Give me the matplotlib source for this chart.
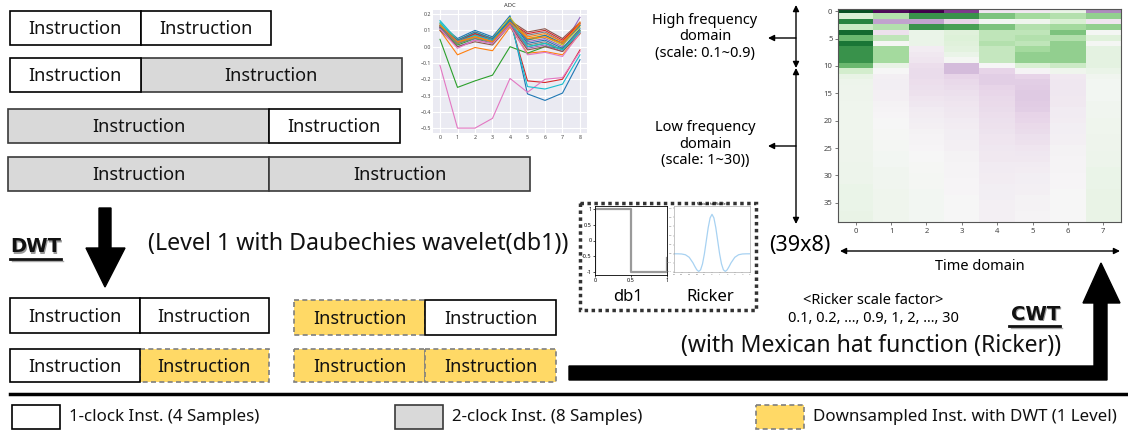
import matplotlib
matplotlib.use("Agg")
import matplotlib.pyplot as plt
from matplotlib.patches import Rectangle, Polygon
import numpy as np

W, H = 1128, 434

# ---------------- data ----------------
# instruction rows before DWT (clock counts per instruction)
top_rows = [[1, 1], [1, 2], [2, 1], [2, 2]]
# instruction rows after DWT ('w' = 1-clock, 'd' = downsampled)
dwt_left_rows = [["w", "w"], ["w", "d"]]
dwt_right_rows = [["d", "w"], ["d", "d"]]
box_label = "Instruction"

# ADC sample traces (x = 0..8)
adc_x = [0, 1, 2, 3, 4, 5, 6, 7, 8]
adc_lines = [
    [0.14, 0.05, 0.10, 0.06, 0.19, -0.29, -0.33, -0.285, -0.08],
    [0.10, -0.05, -0.005, -0.025, 0.12, -0.04, -0.03, -0.05, 0.08],
    [0.045, -0.25, -0.21, -0.175, 0.0, -0.04, 0.0, -0.01, 0.09],
    [0.12, 0.02, 0.06, 0.03, 0.16, -0.21, -0.22, -0.20, -0.02],
    [0.13, 0.03, 0.07, 0.04, 0.17, 0.03, 0.05, 0.0, 0.18],
    [0.13, 0.04, 0.08, 0.05, 0.16, 0.09, 0.11, 0.05, 0.15],
    [-0.115, -0.50, -0.50, -0.44, -0.195, -0.28, -0.20, -0.19, -0.03],
    [0.12, 0.03, 0.07, 0.04, 0.15, 0.07, 0.09, 0.03, 0.14],
    [0.13, 0.02, 0.06, 0.03, 0.16, 0.05, 0.07, 0.02, 0.13],
    [0.16, 0.04, 0.08, 0.05, 0.17, -0.245, -0.26, -0.23, -0.05],
    [0.13, 0.03, 0.08, 0.04, 0.17, 0.02, 0.04, -0.01, 0.11],
    [0.12, 0.02, 0.07, 0.03, 0.16, 0.06, 0.08, 0.03, 0.15],
    [0.11, 0.01, 0.05, 0.02, 0.14, 0.0, 0.02, -0.02, 0.10],
    [0.12, 0.03, 0.08, 0.04, 0.15, 0.08, 0.10, 0.04, 0.14],
    [0.11, 0.0, 0.04, 0.02, 0.14, -0.01, 0.01, -0.03, 0.09],
    [0.10, 0.0, 0.03, 0.01, 0.13, -0.02, 0.0, -0.03, 0.08],
    [0.11, -0.01, 0.04, 0.02, 0.13, -0.05, -0.035, -0.06, 0.085],
    [0.12, 0.02, 0.05, 0.03, 0.15, 0.01, 0.03, -0.02, 0.10],
    [0.14, 0.04, 0.09, 0.05, 0.18, 0.04, 0.06, 0.01, 0.12],
    [0.15, 0.03, 0.07, 0.04, 0.16, 0.0, 0.02, -0.02, 0.09],
    [0.12, 0.04, 0.09, 0.05, 0.16, 0.04, 0.07, 0.02, 0.13],
    [0.13, 0.03, 0.06, 0.03, 0.15, 0.05, 0.06, 0.02, 0.14],
]

# db1 (Haar) wavelet function
db1_x = [0.0, 0.0, 0.5, 0.5, 1.0, 1.0]
db1_y = [-1.0, 1.0, 1.0, -1.0, -1.0, -0.55]

# Mexican hat (Ricker) wavelet samples
ricker_t = [-5, -4.5, -4, -3.5, -3, -2.5, -2.25, -2, -1.75, -1.5, -1.25, -1, -0.75,
            -0.5, -0.25, 0, 0.25, 0.5, 0.75, 1, 1.25, 1.5, 1.75, 2, 2.25, 2.5, 3,
            3.5, 4, 4.5, 5]
ricker_v = [0.0, -0.0005, -0.004, -0.021, -0.077, -0.200, -0.280, -0.352, -0.387,
            -0.352, -0.223, 0.0, 0.286, 0.574, 0.788, 0.867, 0.788, 0.574, 0.286,
            0.0, -0.223, -0.352, -0.387, -0.352, -0.280, -0.200, -0.077, -0.021,
            -0.004, -0.0005, 0.0]

# CWT coefficients (39 scales x 8 time steps), one list per time step
cwt_t0 = [0.95, 0.2, 0.75, 0.25, 0.85, 0.55, 0.8, 0.7, 0.7, 0.7, 0.55, 0.22, 0.1, 0.07,
          0.06, 0.06, 0.06, 0.05, 0.05, 0.05, 0.05, 0.05, 0.05, 0.05, 0.06, 0.06, 0.06,
          0.06, 0.07, 0.07, 0.07, 0.07, 0.08, 0.08, 0.08, 0.08, 0.08, 0.09, 0.09]
cwt_t1 = [-0.95, 0.35, -0.4, 0.35, -0.12, 0.3, 0.02, 0.4, 0.4, 0.4, 0.1, 0.0, -0.04,
          -0.05, -0.05, -0.04, -0.04, -0.03, -0.02, -0.01, 0.0, 0.0, 0.01, 0.01, 0.02,
          0.02, 0.03, 0.03, 0.03, 0.04, 0.04, 0.04, 0.04, 0.05, 0.05, 0.05, 0.05, 0.05,
          0.05]
cwt_t2 = [-1.0, 0.7, -0.4, 0.7, 0.08, 0.08, 0.08, -0.06, -0.08, -0.1, -0.14, -0.15,
          -0.15, -0.14, -0.13, -0.12, -0.1, -0.09, -0.07, -0.06, -0.05, -0.04, -0.03,
          -0.02, -0.02, -0.01, 0.0, 0.0, 0.01, 0.01, 0.02, 0.02, 0.02, 0.03, 0.03, 0.03,
          0.03, 0.03, 0.03]
cwt_t3 = [-0.75, 0.7, -0.2, 0.65, 0.15, 0.17, 0.15, 0.13, 0.08, 0.02, -0.3, -0.3, -0.2,
          -0.17, -0.15, -0.13, -0.11, -0.1, -0.09, -0.08, -0.07, -0.06, -0.05, -0.05,
          -0.04, -0.04, -0.03, -0.03, -0.02, -0.02, -0.02, -0.01, -0.01, -0.01, 0.0, 0.0,
          0.0, 0.0, 0.0]
cwt_t4 = [-0.1, 0.5, 0.03, 0.5, 0.3, 0.3, 0.35, 0.28, 0.28, 0.28, 0.0, -0.2, -0.22,
          -0.22, -0.2, -0.18, -0.17, -0.16, -0.15, -0.14, -0.13, -0.12, -0.11, -0.1,
          -0.1, -0.09, -0.08, -0.08, -0.07, -0.07, -0.06, -0.06, -0.05, -0.05, -0.05,
          -0.04, -0.04, -0.04, -0.04]
cwt_t5 = [-0.08, 0.4, 0.05, 0.35, 0.3, 0.35, 0.3, 0.4, 0.45, 0.45, 0.2, -0.02, -0.2,
          -0.22, -0.23, -0.24, -0.24, -0.23, -0.22, -0.2, -0.18, -0.16, -0.15, -0.13,
          -0.12, -0.1, -0.09, -0.08, -0.07, -0.06, -0.05, -0.05, -0.04, -0.04, -0.03,
          -0.03, -0.03, -0.02, -0.02]
cwt_t6 = [0.1, 0.35, 0.2, 0.4, 0.5, 0.35, 0.45, 0.45, 0.45, 0.45, 0.25, 0.05, -0.08,
          -0.09, -0.09, -0.09, -0.08, -0.08, -0.07, -0.07, -0.06, -0.05, -0.05, -0.04,
          -0.04, -0.03, -0.03, -0.02, -0.02, -0.02, -0.01, -0.01, -0.01, 0.0, 0.0, 0.0,
          0.0, 0.0, 0.0]
cwt_t7 = [-0.5, 0.45, -0.1, 0.45, 0.02, 0.15, 0.02, 0.12, 0.12, 0.12, 0.12, 0.08, 0.04,
          0.03, 0.03, 0.03, 0.03, 0.04, 0.04, 0.04, 0.05, 0.05, 0.05, 0.06, 0.06, 0.06,
          0.07, 0.07, 0.07, 0.08, 0.08, 0.08, 0.08, 0.09, 0.09, 0.09, 0.09, 0.09, 0.09]
cwt_columns = [cwt_t0, cwt_t1, cwt_t2, cwt_t3, cwt_t4, cwt_t5, cwt_t6, cwt_t7]

legend_labels = ["1-clock Inst. (4 Samples)", "2-clock Inst. (8 Samples)",
                 "Downsampled Inst. with DWT (1 Level)"]

# ---------------- styles ----------------
FONT = ["Noto Sans", "DejaVu Sans"]
BOLD = ["DejaVu Sans"]
GRAY = "#D9D9D9"
YELLOW = "#FFD966"
DASH_EC = "#7F7F7F"
plt.rcParams["font.family"] = FONT

fig = plt.figure(figsize=(W / 100, H / 100), dpi=100)
ax = fig.add_axes([0, 0, 1, 1])
ax.set_xlim(0, W)
ax.set_ylim(H, 0)
ax.axis("off")


def px_axes(x0, y0, x1, y1):
    return fig.add_axes([x0 / W, 1 - y1 / H, (x1 - x0) / W, (y1 - y0) / H])


def box(x, y, w, h, kind, label=box_label, fs=13):
    if kind == "w":
        r = Rectangle((x, y), w, h, fc="white", ec="black", lw=1.2, zorder=3)
    elif kind == "g":
        r = Rectangle((x, y), w, h, fc=GRAY, ec="#3a3a3a", lw=1.2, zorder=2)
    else:
        r = Rectangle((x, y), w, h, fc=YELLOW, ec=DASH_EC, lw=1.2,
                      ls=(0, (3, 2)), zorder=2)
    ax.add_patch(r)
    if label:
        ax.text(x + w / 2, y + h / 2 + 1, label, ha="center", va="center",
                fontsize=fs, color="#111111", zorder=4)


def bold_label(x, y, s, ha):
    ax.text(x + 1.5, y + 1.5, s, fontsize=14, fontweight="bold", ha=ha,
            va="center", color="#9a9a9a", family=BOLD)
    ax.text(x, y, s, fontsize=14, fontweight="bold", ha=ha, va="center",
            color="#111111", family=BOLD)


# ---- top instruction rows ----
unit = 130.5
row_y = [11, 58, 109, 157]
row_x0 = [10, 10, 8, 8]
for r, clocks in enumerate(top_rows):
    x = row_x0[r]
    for c in clocks:
        box(x, row_y[r], unit * c, 34, "w" if c == 1 else "g")
        x += unit * c

# ---- after-DWT rows ----
bw = 129.5
for r, kinds in enumerate(dwt_left_rows):
    y = [298, 349][r]
    x = 10
    for k in kinds:
        box(x, y, bw, [35, 33][r], k)
        x += bw
for r, kinds in enumerate(dwt_right_rows):
    y = [300, 349][r]
    x = 294
    for k in kinds:
        box(x, y, 131, [35, 33][r], k)
        x += 131

# ---- DWT label + arrow ----
bold_label(10, 247, "DWT", "left")
ax.plot([10, 61], [259, 259], color="#111111", lw=2)
ax.plot([11.5, 62.5], [260.5, 260.5], color="#aaaaaa", lw=1, zorder=0)
ax.add_patch(Polygon([(99, 208), (111, 208), (111, 248), (125, 248), (105, 287),
                      (86, 248), (99, 248)], closed=True, fc="black", ec="black"))
ax.text(148, 244, "(Level 1 with Daubechies wavelet(db1))", fontsize=16.7,
        ha="left", va="center", color="#111111")

# ---- CWT label / text ----
bold_label(1060, 314, "CWT", "right")
ax.plot([1009, 1060], [326, 326], color="#111111", lw=2)
ax.plot([1010.5, 1061.5], [327.5, 327.5], color="#aaaaaa", lw=1, zorder=0)
ax.text(873, 300, "<Ricker scale factor>", fontsize=10.5, ha="center", va="center")
ax.text(873, 319, "0.1, 0.2, ..., 0.9, 1, 2, ..., 30", fontsize=10.5,
        ha="center", va="center")
ax.text(1061, 346, "(with Mexican hat function (Ricker))", fontsize=16.6,
        ha="right", va="center", color="#111111")

# big L-shaped arrow
ax.add_patch(Polygon([(569, 366), (1094, 366), (1094, 303), (1083, 303), (1101, 263),
                      (1120, 303), (1107, 303), (1107, 380), (569, 380)],
                     closed=True, fc="black", ec="black"))

# ---- frequency annotations ----
ax.text(705, 37, "High frequency\ndomain\n(scale: 0.1~0.9)", fontsize=10.5,
        ha="center", va="center", linespacing=1.12)
ax.text(705, 144, "Low frequency\ndomain\n(scale: 1~30))", fontsize=10.5,
        ha="center", va="center", linespacing=1.12)
arr = dict(arrowstyle="<|-|>", color="black", lw=1, mutation_scale=9,
           shrinkA=0, shrinkB=0)
ax.annotate("", xy=(796, 5), xytext=(796, 68), arrowprops=arr)
ax.annotate("", xy=(796, 68), xytext=(796, 224), arrowprops=arr)
arr1 = dict(arrowstyle="-|>", color="black", lw=1, mutation_scale=9,
            shrinkA=0, shrinkB=0)
ax.annotate("", xy=(768, 38), xytext=(796, 38), arrowprops=arr1)
ax.annotate("", xy=(768, 146), xytext=(796, 146), arrowprops=arr1)

ax.text(800, 246, "(39x8)", fontsize=15.5, ha="center", va="center")
ax.annotate("", xy=(840, 251), xytext=(1120, 251), arrowprops=arr)
ax.text(980, 266, "Time domain", fontsize=10.5, ha="center", va="center")

# ---- dotted frame around wavelets ----
ax.add_patch(Rectangle((580, 203), 176, 107, fill=False, ec="#333333", lw=2.5,
                       ls=(0, (1, 1))))
ax.text(628, 297, "db1", fontsize=12, ha="center", va="center")
ax.text(710, 297, "Ricker", fontsize=12, ha="center", va="center")

# ---- separator + legend ----
ax.plot([10, 1128], [393.5, 393.5], color="black", lw=2.5)
lx = [12, 395, 756]
lk = ["w", "g", "d"]
for x, k, lab in zip(lx, lk, legend_labels):
    box(x, 405, 48, 24, k, label=None)
    ax.text(x + 57, 417, lab, fontsize=12.2, ha="left", va="center",
            color="#111111")

# ---------------- ADC inset ----------------
a1 = px_axes(433, 10, 587, 133)
a1.set_facecolor("#EAEAF2")
for s in a1.spines.values():
    s.set_visible(False)
colors = plt.rcParams["axes.prop_cycle"].by_key()["color"]
for i, ys in enumerate(adc_lines):
    a1.plot(adc_x, ys, color=colors[i % 10], lw=0.8)
a1.set_ylim(-0.53, 0.225)
a1.set_xticks(adc_x)
a1.set_yticks([0.2, 0.1, 0.0, -0.1, -0.2, -0.3, -0.4, -0.5])
a1.tick_params(labelsize=3.8, length=0, pad=1.5, colors="#444444")
a1.grid(color="white", lw=0.8)
a1.set_axisbelow(True)
a1.set_title("ADC", fontsize=4.2, pad=2, color="#333333")

# ---------------- db1 inset ----------------
a2 = px_axes(595, 206, 667, 275)
a2.plot(db1_x, db1_y, color="#9a9a9a", lw=1.6)
a2.set_xlim(0, 1)
a2.set_ylim(-1.1, 1.1)
a2.set_xticks([0, 0.5, 1])
a2.set_xticklabels(["0", "0.5", "1"])
a2.set_yticks([1, 0.5, 0, -0.5, -1])
a2.set_yticklabels(["1", "0.5", "0", "-0.5", "-1"])
a2.tick_params(labelsize=4, length=1.5, pad=1, width=0.5)
for s in a2.spines.values():
    s.set_linewidth(0.6)

# ---------------- Ricker inset ----------------
a3 = px_axes(674, 206, 750, 272)
a3.plot(ricker_t, ricker_v, color="#a8d2f2", lw=0.9)
a3.set_xlim(-5, 5)
a3.set_ylim(-0.4, 1.05)
a3.set_xticks(range(-5, 6))
a3.set_yticks([-0.4, -0.2, 0, 0.2, 0.4, 0.6, 0.8, 1.0])
a3.tick_params(labelsize=1.8, length=1, pad=0.5, width=0.3, colors="#777777")
for s in a3.spines.values():
    s.set_linewidth(0.4)
    s.set_color("#999999")
a3.set_title("Mexican hat Wavelet", fontsize=2.2, pad=1)

# ---------------- CWT heatmap ----------------
a4 = px_axes(838, 8.5, 1121, 222)
cwt = np.array(cwt_columns).T
a4.imshow(cwt, cmap="PRGn", vmin=-1, vmax=1, aspect="auto", interpolation="nearest")
a4.set_xticks(range(8))
a4.set_yticks(range(0, 39, 5))
a4.tick_params(labelsize=5.5, length=2, width=0.5, pad=2, colors="#444444")
for s in a4.spines.values():
    s.set_linewidth(0.8)
    s.set_color("#555555")

fig.savefig("out.png", dpi=100)
